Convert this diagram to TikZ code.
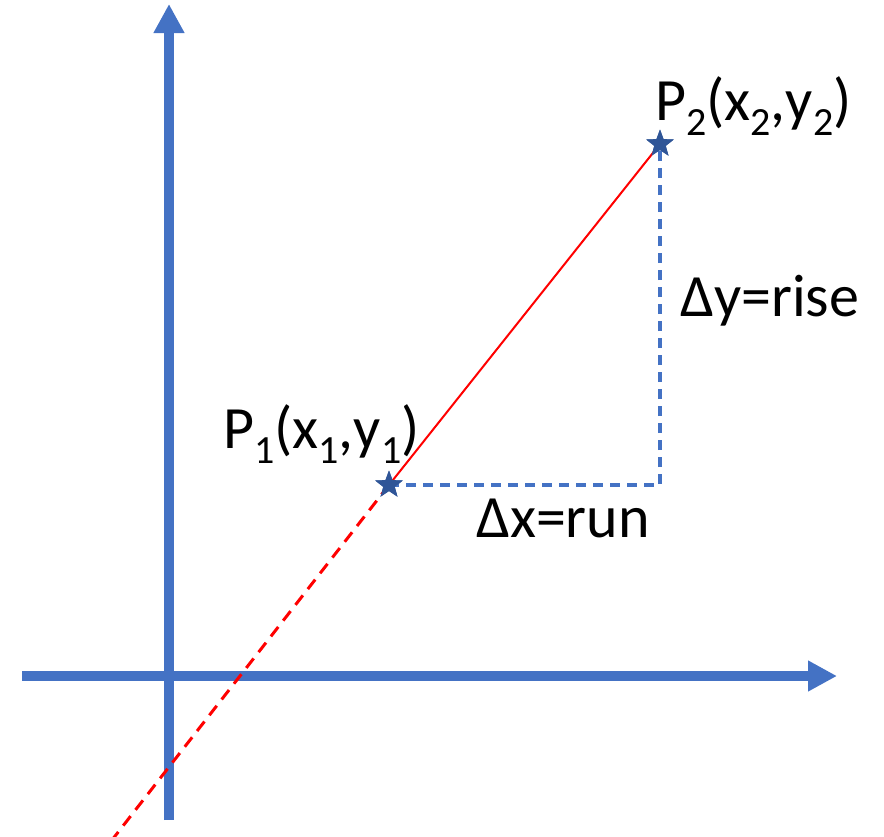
\documentclass[tikz,border=0pt]{standalone}
\usepackage{fontspec}
\setmainfont{Carlito}
\usetikzlibrary{arrows.meta,shapes.geometric}
\definecolor{axisblue}{HTML}{4472C4}
\definecolor{stardark}{HTML}{2F5597}
\newcommand{\mysub}[1]{\raisebox{-0.26em}{\fontsize{40}{40}\selectfont #1}}
\tikzset{
  axisline/.style={line width=9.5pt, draw=axisblue, -{Triangle[width=29pt,length=29pt]}},
  starpt/.style={star, star points=5, star point ratio=2.4, minimum size=29pt, inner sep=0pt, fill=stardark, draw=none},
  deltaline/.style={draw=axisblue, line width=3.2pt, dash pattern=on 10pt off 7pt},
  redsolid/.style={draw=red, line width=2pt},
  reddash/.style={draw=red, line width=3pt, dash pattern=on 12pt off 8pt},
  lbl/.style={anchor=base west, inner sep=0pt, font=\fontsize{60}{60}\selectfont}
}
\begin{document}
\begin{tikzpicture}[x=1pt,y=-1pt]
\useasboundingbox (0,0) rectangle (884,836);
\coordinate (ybot) at (169,820);
\coordinate (ytop) at (169,4);
\coordinate (xleft) at (22,676);
\coordinate (xright) at (837,676);
\coordinate (corner) at (660,485);
\coordinate (rend) at (112,840);
\draw[axisline] (ybot) -- (ytop);
\draw[axisline] (xleft) -- (xright);
\node[starpt] (p1) at (389,485) {};
\node[starpt] (p2) at (660,144) {};
\draw[deltaline] (p1.center) -- (corner) -- (p2.center);
\draw[redsolid] (p1.center) -- (p2.center);
\draw[reddash] (p1.center) -- (rend);
\node[starpt] at (p1.center) {};
\node[starpt] at (p2.center) {};
\node[lbl] (l1) at (223,448) {P\mysub{1}(x\mysub{1},y\mysub{1})};
\node[lbl] (l2) at (655,120) {P\mysub{2}(x\mysub{2},y\mysub{2})};
\node[lbl] (ly) at (680,316) {Δy=rise};
\node[lbl] (lx) at (476,537) {Δx=run};
\end{tikzpicture}
\end{document}
